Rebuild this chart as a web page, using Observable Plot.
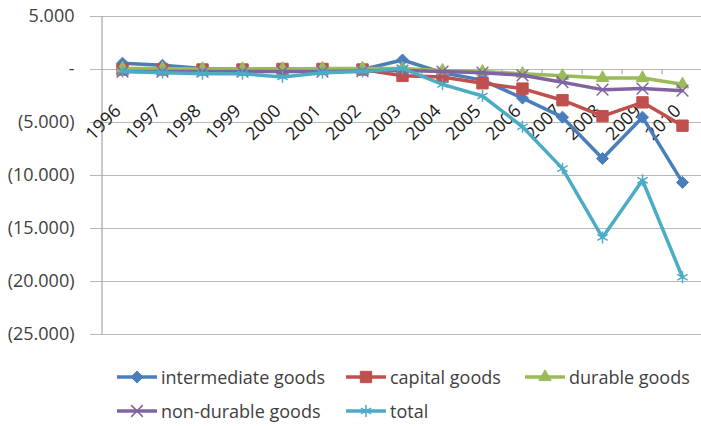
<!DOCTYPE html>
<html>
<head>
<meta charset="utf-8">
<script src="https://cdn.jsdelivr.net/npm/d3@7"></script>
<script src="https://cdn.jsdelivr.net/npm/@observablehq/plot@0.6"></script>
<style>
  html, body { margin: 0; padding: 0; background: #fff; overflow: hidden; }
  #chart { position: relative; width: 701px; height: 426px; font-family: "Open Sans", sans-serif; }
  #legend { position: absolute; left: 0; top: 0; width: 701px; height: 426px; pointer-events: none; }
  .item { position: absolute; display: flex; align-items: center; font-size: 18px; color: #404040; white-space: nowrap; }
  .item svg { margin-right: 4px; }
</style>
</head>
<body>
<div id="chart"><div id="legend"></div></div>
<script>
// Trade balance by end-use category, 1996-2010
const years = ["1996","1997","1998","1999","2000","2001","2002","2003","2004","2005","2006","2007","2008","2009","2010"];

const intermediate = [600, 400, 100, 0, 0, 0, 0, 900, -300, -1000, -2700, -4500, -8400, -4500, -10650];
const capital      = [0, 0, 0, 0, 50, 50, 0, -600, -700, -1300, -1800, -2900, -4400, -3100, -5300];
const durable      = [100, 100, 50, 50, 50, 100, 100, 100, -100, -200, -400, -600, -800, -800, -1400];
const nonDurable   = [-200, -200, -200, -200, -200, -200, -150, -100, -200, -300, -550, -1200, -1900, -1800, -2000];
const total        = [-200, -300, -400, -400, -700, -300, -200, 100, -1400, -2500, -5400, -9350, -15850, -10450, -19600];

const seriesNames = ["intermediate goods", "capital goods", "durable goods", "non-durable goods", "total"];
const seriesValues = [intermediate, capital, durable, nonDurable, total];
const seriesColors = ["#4a7ebb", "#c0504d", "#9bbb59", "#8064a2", "#4bacc6"];
const seriesSymbols = ["diamond2", "square", "triangle", "times", "asterisk"];
const seriesFilled = [true, true, true, false, false];
const seriesR = [5.4, 6.4, 4.6, 5.4, 5.6];

const yTicks = [5000, 0, -5000, -10000, -15000, -20000, -25000];

// Accounting-style number format: thousands with ".", negatives in parentheses, zero as "-"
const fmtNum = v => {
  if (v === 0) return "-";
  const s = Math.abs(v).toString().replace(/\B(?=(\d{3})+(?!\d))/g, ".");
  return v < 0 ? `(${s})` : s;
};

const W = 701, H = 345;
const mLeft = 95, mRight = -8, mTop = 16, mBottom = 11;
const step = (W - mRight - mLeft) / years.length;

const rows = seriesNames.flatMap((name, s) =>
  years.map((year, i) => ({series: name, year, value: seriesValues[s][i]})));

const seriesMarks = seriesNames.flatMap((name, s) => {
  const data = rows.filter(d => d.series === name);
  return [
    Plot.line(data, {x: "year", y: "value", stroke: seriesColors[s], strokeWidth: 3.5, strokeLinejoin: "round"}),
    Plot.dot(data, {
      x: "year", y: "value", symbol: seriesSymbols[s], r: seriesR[s],
      fill: seriesFilled[s] ? seriesColors[s] : "none",
      stroke: seriesColors[s], strokeWidth: seriesFilled[s] ? 1 : 1.5
    })
  ];
});

const chart = Plot.plot({
  width: W, height: H,
  marginLeft: mLeft, marginRight: mRight, marginTop: mTop, marginBottom: mBottom,
  style: {fontFamily: "'Open Sans', sans-serif", fontSize: "18px", color: "#404040", background: "white", overflow: "visible"},
  x: {type: "point", domain: years, padding: 0.5, axis: null},
  y: {domain: [-25000, 5000], ticks: yTicks, tickFormat: fmtNum, tickSize: 0, tickPadding: 21, label: null},
  marks: [
    Plot.ruleY(yTicks, {stroke: "#b8b8b8", strokeWidth: 1.2, insetLeft: -5}),
    Plot.ruleX([years[0]], {dx: -step / 2, y1: d3.min(yTicks), y2: d3.max(yTicks), stroke: "#a6a6a6", strokeWidth: 1.2}),
    Plot.ruleX(years.slice(1), {dx: -step / 2, y1: 0, y2: 0, insetBottom: -5, stroke: "#a6a6a6", strokeWidth: 1.2}),
    Plot.text(years, {x: d => d, y: 0, text: d => d, rotate: -45, textAnchor: "middle", dx: -19, dy: 53, fill: "#1a1a1a", fontSize: 18}),
    ...seriesMarks
  ]
});
document.getElementById("chart").prepend(chart);

// Legend below the plot
const legend = document.getElementById("legend");
const legendPos = [[117, 377], [346, 377], [525, 377], [117, 411], [346, 411]];
const symbolTypes = {diamond2: d3.symbolDiamond2, square: d3.symbolSquare, triangle: d3.symbolTriangle, times: d3.symbolTimes, asterisk: d3.symbolAsterisk};
seriesNames.forEach((name, s) => {
  const item = document.createElement("div");
  item.className = "item";
  item.style.left = legendPos[s][0] + "px";
  item.style.top = (legendPos[s][1] - 12) + "px";
  item.style.height = "24px";
  const sw = d3.create("svg").attr("width", 40).attr("height", 16);
  sw.append("line").attr("x1", 0).attr("x2", 40).attr("y1", 8).attr("y2", 8)
    .attr("stroke", seriesColors[s]).attr("stroke-width", 3.5);
  sw.append("path")
    .attr("transform", "translate(20,8)")
    .attr("d", d3.symbol(symbolTypes[seriesSymbols[s]], Math.PI * seriesR[s] ** 2)())
    .attr("fill", seriesFilled[s] ? seriesColors[s] : "none")
    .attr("stroke", seriesColors[s]).attr("stroke-width", seriesFilled[s] ? 1 : 1.5);
  item.append(sw.node());
  const label = document.createElement("span");
  label.textContent = name;
  item.append(label);
  legend.append(item);
});
</script>
</body>
</html>
